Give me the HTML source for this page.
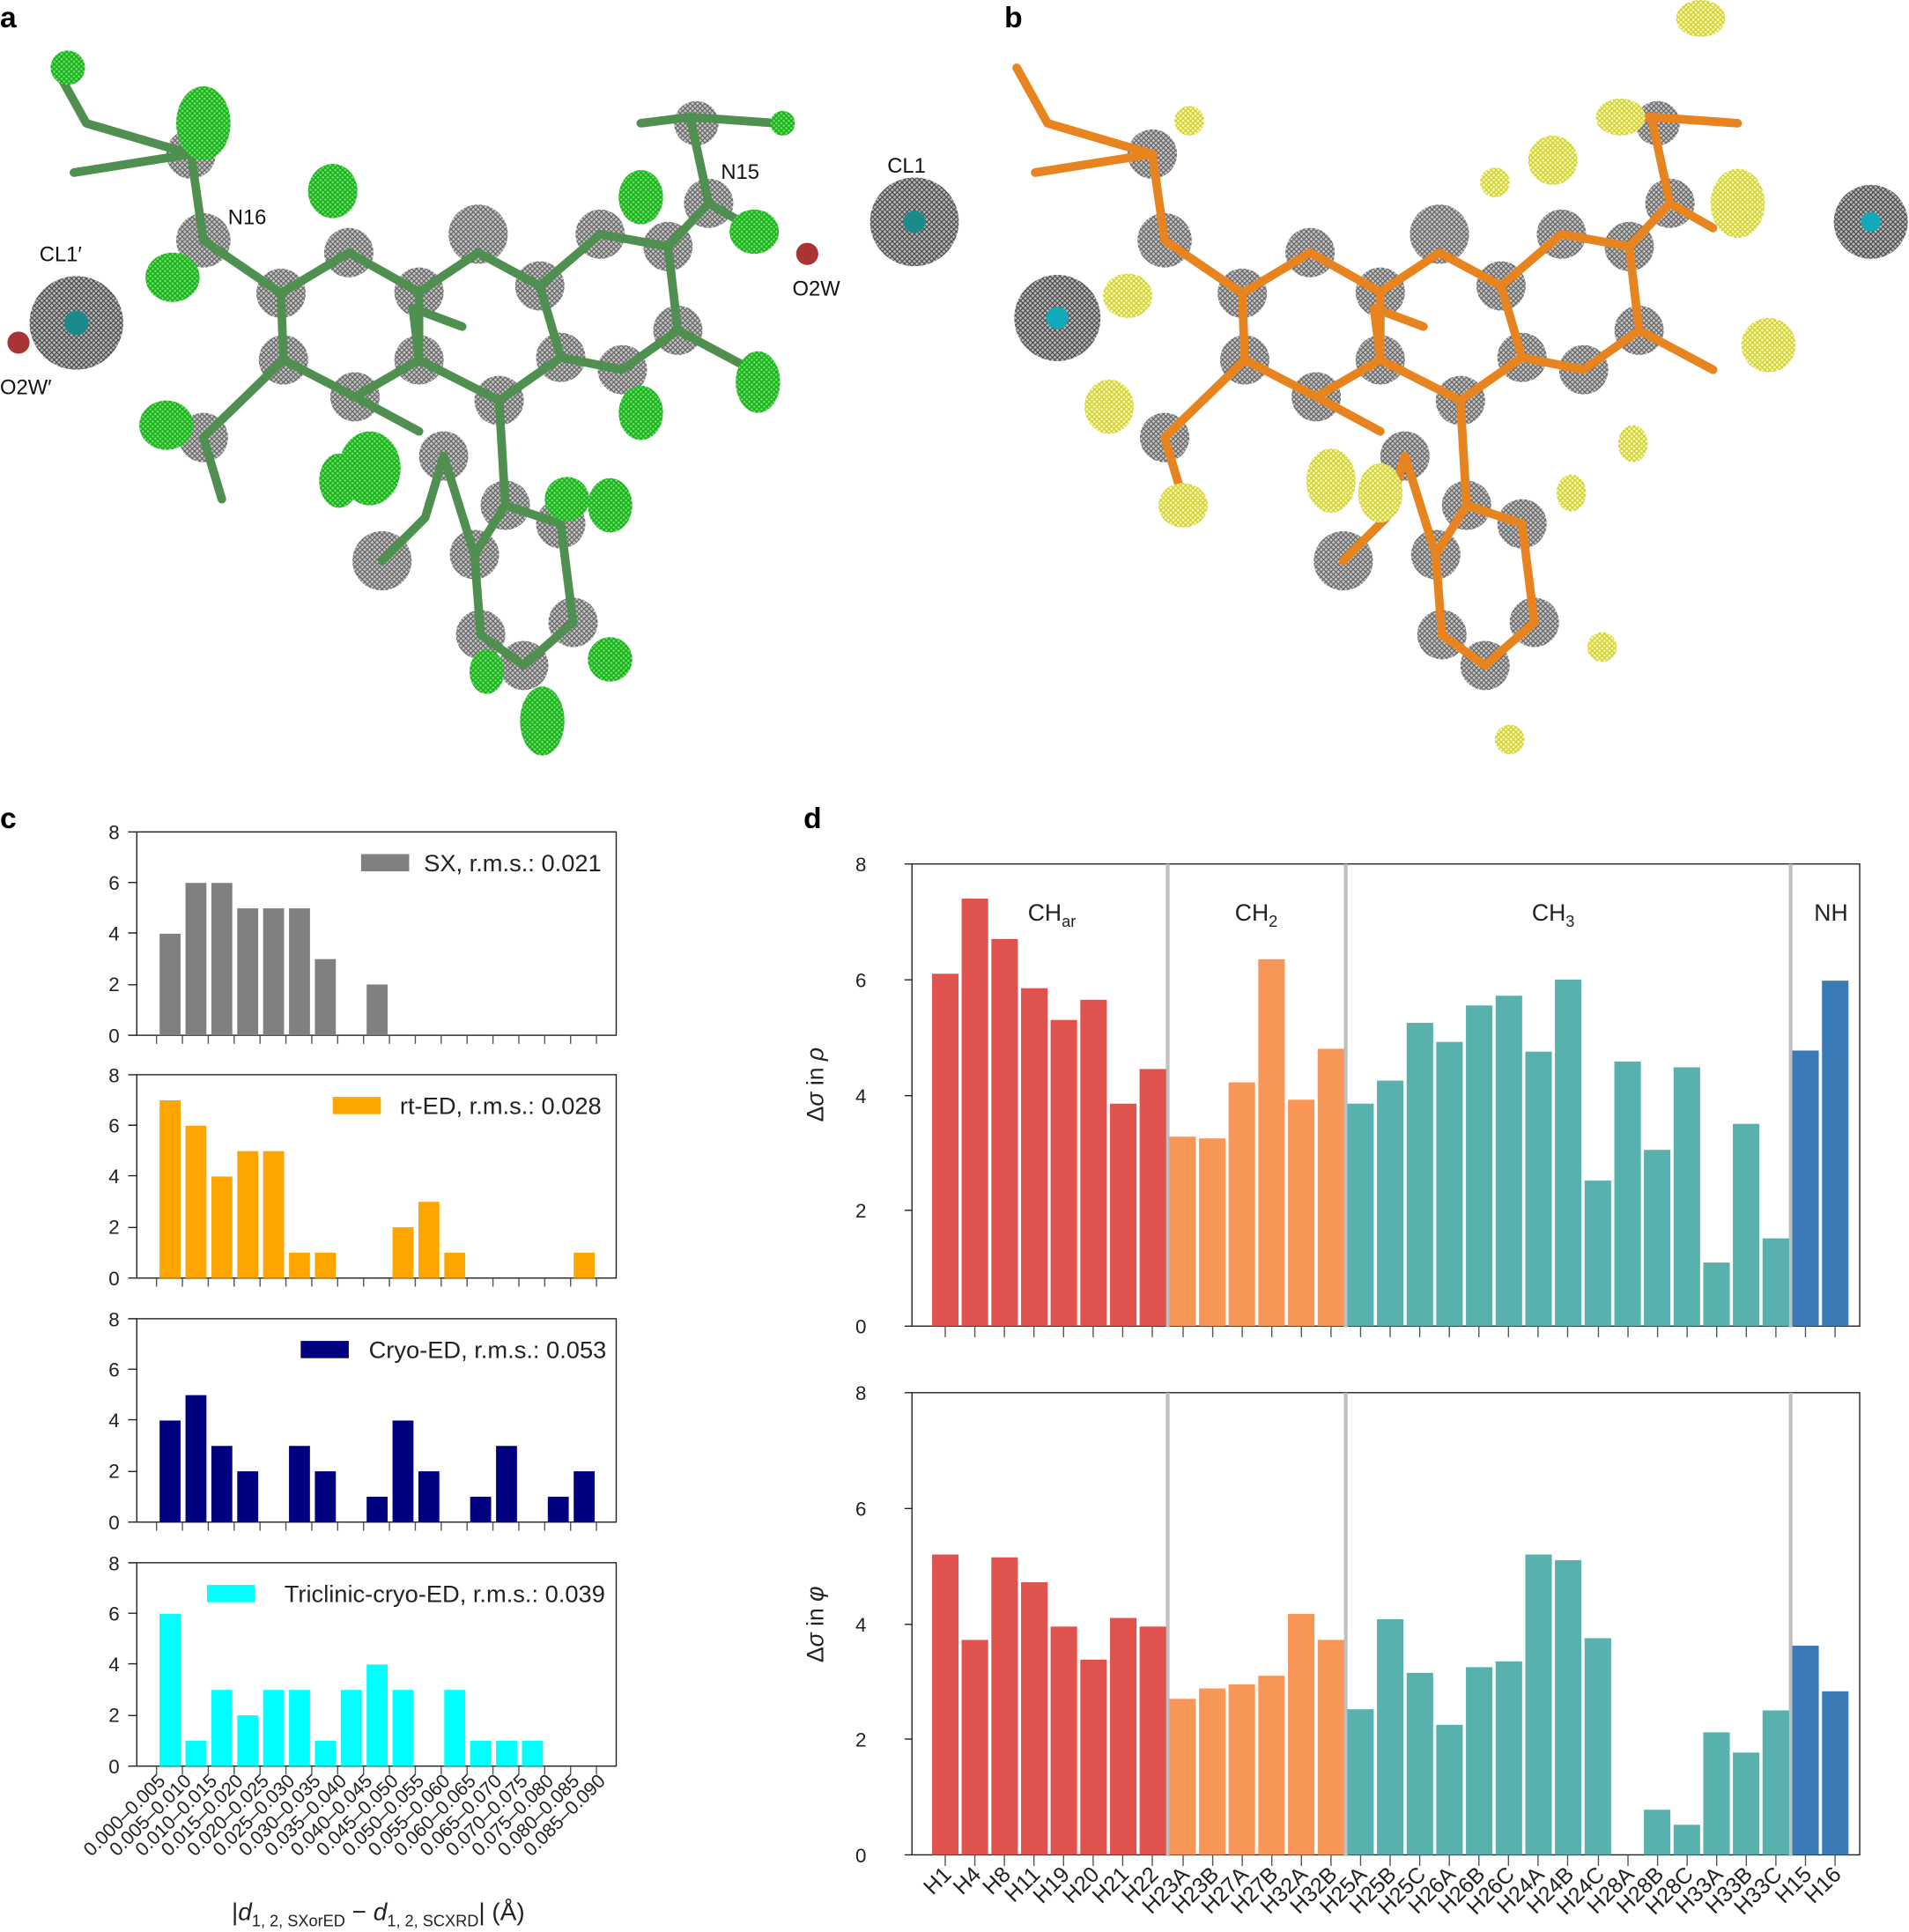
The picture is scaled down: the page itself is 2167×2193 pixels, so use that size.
<!DOCTYPE html>
<html><head><meta charset="utf-8"><style>html,body{margin:0;padding:0;background:#fff}svg{display:block}</style></head><body>
<svg xmlns="http://www.w3.org/2000/svg" width="2167" height="2193" viewBox="0 0 1549 1567.6" font-family="Liberation Sans, sans-serif">
<defs>
<pattern id="mesh" width="4" height="4" patternUnits="userSpaceOnUse"><rect width="4" height="4" fill="#bbb"/><path d="M0 0L4 4M4 0L0 4" stroke="#444" stroke-width="0.8"/></pattern>
<pattern id="gmesh" width="4" height="4" patternUnits="userSpaceOnUse"><rect width="4" height="4" fill="#6d6"/><path d="M0 0L4 4M4 0L0 4" stroke="#1a1" stroke-width="0.9"/></pattern>
<pattern id="ymesh" width="4" height="4" patternUnits="userSpaceOnUse"><rect width="4" height="4" fill="#ffa"/><path d="M0 0L4 4M4 0L0 4" stroke="#cc3" stroke-width="0.9"/></pattern>
<g id="spheres" fill="url(#mesh)" opacity="0.85">
<circle cx="228" cy="238" r="20"/><circle cx="283" cy="205" r="20"/><circle cx="340" cy="237" r="20"/><circle cx="340" cy="292" r="20"/><circle cx="288" cy="322" r="20"/><circle cx="230" cy="292" r="20"/><circle cx="388" cy="190" r="24"/><circle cx="438" cy="232" r="20"/><circle cx="487" cy="190" r="20"/><circle cx="542" cy="200" r="20"/><circle cx="550" cy="268" r="20"/><circle cx="505" cy="300" r="20"/><circle cx="455" cy="290" r="20"/><circle cx="405" cy="325" r="20"/><circle cx="410" cy="410" r="20"/><circle cx="455" cy="425" r="20"/><circle cx="465" cy="505" r="20"/><circle cx="425" cy="540" r="20"/><circle cx="390" cy="515" r="20"/><circle cx="385" cy="450" r="20"/><circle cx="360" cy="370" r="20"/><circle cx="310" cy="455" r="24"/><circle cx="165" cy="195" r="22"/><circle cx="155" cy="125" r="20"/><circle cx="575" cy="165" r="20"/><circle cx="565" cy="100" r="18"/><circle cx="165" cy="355" r="20"/>
</g>
<path id="bonds" d="M165 195L228 238L283 205L340 237L340 292L288 322L230 292L228 238M340 237L388 205L438 232L487 190L542 200L550 268L505 300L455 290L438 232M340 292L405 325L455 290M405 325L410 410L455 425L465 505L425 540L390 515L385 450L410 410M385 450L360 370L345 420L310 455M165 195L155 125L70 100L45 55M155 125L60 140M542 200L575 165L560 95L520 100M560 95L630 100M575 165L610 185M230 292L165 355L180 405M550 268L610 300M288 322L340 350M340 292L335 250L375 265" fill="none" stroke-width="7" stroke-linecap="round" stroke-linejoin="round"/>
</defs>
<text x="0" y="22" font-size="24" font-weight="bold">a</text>
<text x="815" y="22" font-size="24" font-weight="bold">b</text>
<g>
<use href="#spheres"/>
<use href="#bonds" stroke="#4f8f4f"/>
<g fill="url(#gmesh)">
<ellipse cx="55" cy="55" rx="14" ry="14"/><ellipse cx="165" cy="100" rx="22" ry="30"/><ellipse cx="140" cy="225" rx="22" ry="20"/><ellipse cx="270" cy="155" rx="20" ry="22"/><ellipse cx="300" cy="380" rx="25" ry="30"/><ellipse cx="520" cy="160" rx="18" ry="22"/><ellipse cx="612" cy="188" rx="20" ry="18"/><ellipse cx="615" cy="310" rx="18" ry="25"/><ellipse cx="520" cy="335" rx="18" ry="22"/><ellipse cx="135" cy="345" rx="22" ry="20"/><ellipse cx="460" cy="405" rx="18" ry="18"/><ellipse cx="495" cy="535" rx="18" ry="18"/><ellipse cx="440" cy="585" rx="18" ry="28"/><ellipse cx="495" cy="410" rx="18" ry="22"/><ellipse cx="635" cy="100" rx="10" ry="10"/><ellipse cx="395" cy="545" rx="14" ry="18"/><ellipse cx="275" cy="390" rx="16" ry="22"/>
</g>
<circle cx="62" cy="262" r="38" fill="url(#mesh)"/><circle cx="62" cy="262" r="10" fill="#1a8a8a"/>
<circle cx="742" cy="180" r="36" fill="url(#mesh)"/><circle cx="742" cy="180" r="9" fill="#1a8a8a"/>
<circle cx="15" cy="278" r="9" fill="#a33"/><circle cx="655" cy="206" r="9" fill="#a33"/>
</g>
<g transform="translate(780,0)">
<use href="#spheres"/>
<use href="#bonds" stroke="#e8841f"/>
<g fill="url(#ymesh)">
<ellipse cx="185" cy="98" rx="12" ry="12"/><ellipse cx="135" cy="240" rx="20" ry="18"/><ellipse cx="120" cy="330" rx="20" ry="22"/><ellipse cx="180" cy="410" rx="20" ry="18"/><ellipse cx="300" cy="390" rx="20" ry="26"/><ellipse cx="340" cy="400" rx="18" ry="24"/><ellipse cx="480" cy="130" rx="20" ry="20"/><ellipse cx="535" cy="95" rx="20" ry="15"/><ellipse cx="630" cy="165" rx="22" ry="28"/><ellipse cx="655" cy="280" rx="22" ry="22"/><ellipse cx="545" cy="360" rx="12" ry="15"/><ellipse cx="600" cy="15" rx="20" ry="15"/><ellipse cx="495" cy="400" rx="12" ry="15"/><ellipse cx="445" cy="600" rx="12" ry="12"/><ellipse cx="520" cy="525" rx="12" ry="12"/><ellipse cx="433" cy="148" rx="12" ry="12"/>
</g>
</g>
<circle cx="858" cy="258" r="35" fill="url(#mesh)"/><circle cx="858" cy="258" r="9" fill="#1ab"/>
<circle cx="1518" cy="180" r="30" fill="url(#mesh)"/><circle cx="1518" cy="180" r="8" fill="#1ab"/>
<g font-size="17" fill="#111">
<text x="185" y="182">N16</text><text x="32" y="212">CL1′</text><text x="0" y="320">O2W′</text><text x="585" y="145">N15</text><text x="643" y="240">O2W</text><text x="720" y="140">CL1</text>
</g>

<!-- panel c -->
<text x="0" y="672" font-size="24" font-weight="bold">c</text>
<g font-size="16" fill="#222" text-anchor="end">
<text x="97" y="681">8</text><text x="97" y="722">6</text><text x="97" y="763">4</text><text x="97" y="804">2</text><text x="97" y="846">0</text>
<text x="97" y="878">8</text><text x="97" y="919">6</text><text x="97" y="960">4</text><text x="97" y="1001">2</text><text x="97" y="1043">0</text>
<text x="97" y="1076">8</text><text x="97" y="1117">6</text><text x="97" y="1158">4</text><text x="97" y="1199">2</text><text x="97" y="1241">0</text>
<text x="97" y="1274">8</text><text x="97" y="1315">6</text><text x="97" y="1356">4</text><text x="97" y="1397">2</text><text x="97" y="1439">0</text>
</g>
<g fill="none" stroke="#222" stroke-width="1">
<rect x="111" y="675" width="389" height="165"/><rect x="111" y="872" width="389" height="165"/><rect x="111" y="1070" width="389" height="165"/><rect x="111" y="1268" width="389" height="165"/>
<path d="M104 675h7M104 716h7M104 757h7M104 799h7M104 840h7M104 872h7M104 913h7M104 954h7M104 996h7M104 1037h7M104 1070h7M104 1111h7M104 1152h7M104 1194h7M104 1235h7M104 1268h7M104 1309h7M104 1350h7M104 1392h7M104 1433h7"/>
</g>
<g stroke="#555" stroke-width="1">
<path d="M127 840v7M148 840v7M169 840v7M190 840v7M211 840v7M232 840v7M253 840v7M274 840v7M295 840v7M316 840v7M337 840v7M358 840v7M379 840v7M400 840v7M421 840v7M442 840v7M463 840v7M484 840v7"/>
<path d="M127 1037v7M148 1037v7M169 1037v7M190 1037v7M211 1037v7M232 1037v7M253 1037v7M274 1037v7M295 1037v7M316 1037v7M337 1037v7M358 1037v7M379 1037v7M400 1037v7M421 1037v7M442 1037v7M463 1037v7M484 1037v7"/>
<path d="M127 1235v7M148 1235v7M169 1235v7M190 1235v7M211 1235v7M232 1235v7M253 1235v7M274 1235v7M295 1235v7M316 1235v7M337 1235v7M358 1235v7M379 1235v7M400 1235v7M421 1235v7M442 1235v7M463 1235v7M484 1235v7"/>
<path d="M127 1433v7M148 1433v7M169 1433v7M190 1433v7M211 1433v7M232 1433v7M253 1433v7M274 1433v7M295 1433v7M316 1433v7M337 1433v7M358 1433v7M379 1433v7M400 1433v7M421 1433v7M442 1433v7M463 1433v7M484 1433v7"/>
</g>
<g fill="#808080">
<rect x="129.5" y="757.6" width="17" height="82.4"/><rect x="150.5" y="716.4" width="17" height="123.6"/><rect x="171.5" y="716.4" width="17" height="123.6"/><rect x="192.5" y="737" width="17" height="103"/><rect x="213.5" y="737" width="17" height="103"/><rect x="234.5" y="737" width="17" height="103"/><rect x="255.5" y="778.2" width="17" height="61.8"/><rect x="297.5" y="798.8" width="17" height="41.2"/>
<rect x="293" y="693" width="39" height="14"/>
</g>
<g fill="#ffa500">
<rect x="129.5" y="892.8" width="17" height="144.2"/><rect x="150.5" y="913.4" width="17" height="123.6"/><rect x="171.5" y="954.6" width="17" height="82.4"/><rect x="192.5" y="934" width="17" height="103"/><rect x="213.5" y="934" width="17" height="103"/><rect x="234.5" y="1016.4" width="17" height="20.6"/><rect x="255.5" y="1016.4" width="17" height="20.6"/><rect x="318.5" y="995.8" width="17" height="41.2"/><rect x="339.5" y="975.2" width="17" height="61.8"/><rect x="360.5" y="1016.4" width="17" height="20.6"/><rect x="465.5" y="1016.4" width="17" height="20.6"/>
<rect x="270" y="890" width="39" height="14"/>
</g>
<g fill="#000080">
<rect x="129.5" y="1152.6" width="17" height="82.4"/><rect x="150.5" y="1132" width="17" height="103"/><rect x="171.5" y="1173.2" width="17" height="61.8"/><rect x="192.5" y="1193.8" width="17" height="41.2"/><rect x="234.5" y="1173.2" width="17" height="61.8"/><rect x="255.5" y="1193.8" width="17" height="41.2"/><rect x="297.5" y="1214.4" width="17" height="20.6"/><rect x="318.5" y="1152.6" width="17" height="82.4"/><rect x="339.5" y="1193.8" width="17" height="41.2"/><rect x="381.5" y="1214.4" width="17" height="20.6"/><rect x="402.5" y="1173.2" width="17" height="61.8"/><rect x="444.5" y="1214.4" width="17" height="20.6"/><rect x="465.5" y="1193.8" width="17" height="41.2"/>
<rect x="244" y="1088" width="39" height="14"/>
</g>
<g fill="#00ffff">
<rect x="129.5" y="1309.4" width="17" height="123.6"/><rect x="150.5" y="1412.4" width="17" height="20.6"/><rect x="171.5" y="1371.2" width="17" height="61.8"/><rect x="192.5" y="1391.8" width="17" height="41.2"/><rect x="213.5" y="1371.2" width="17" height="61.8"/><rect x="234.5" y="1371.2" width="17" height="61.8"/><rect x="255.5" y="1412.4" width="17" height="20.6"/><rect x="276.5" y="1371.2" width="17" height="61.8"/><rect x="297.5" y="1350.6" width="17" height="82.4"/><rect x="318.5" y="1371.2" width="17" height="61.8"/><rect x="360.5" y="1371.2" width="17" height="61.8"/><rect x="381.5" y="1412.4" width="17" height="20.6"/><rect x="402.5" y="1412.4" width="17" height="20.6"/><rect x="423.5" y="1412.4" width="17" height="20.6"/>
<rect x="168" y="1286" width="39" height="14"/>
</g>
<g font-size="19.5" fill="#222" text-anchor="end">
<text x="488" y="707">SX, r.m.s.: 0.021</text>
<text x="488" y="904">rt-ED, r.m.s.: 0.028</text>
<text x="492" y="1102">Cryo-ED, r.m.s.: 0.053</text>
<text x="491" y="1300">Triclinic-cryo-ED, r.m.s.: 0.039</text>
</g>
<g font-size="15.5" fill="#222" text-anchor="end">
<text transform="translate(135,1446) rotate(-45)">0.000–0.005</text>
<text transform="translate(156,1446) rotate(-45)">0.005–0.010</text>
<text transform="translate(177,1446) rotate(-45)">0.010–0.015</text>
<text transform="translate(198,1446) rotate(-45)">0.015–0.020</text>
<text transform="translate(219,1446) rotate(-45)">0.020–0.025</text>
<text transform="translate(240,1446) rotate(-45)">0.025–0.030</text>
<text transform="translate(261,1446) rotate(-45)">0.030–0.035</text>
<text transform="translate(282,1446) rotate(-45)">0.035–0.040</text>
<text transform="translate(303,1446) rotate(-45)">0.040–0.045</text>
<text transform="translate(324,1446) rotate(-45)">0.045–0.050</text>
<text transform="translate(345,1446) rotate(-45)">0.050–0.055</text>
<text transform="translate(366,1446) rotate(-45)">0.055–0.060</text>
<text transform="translate(387,1446) rotate(-45)">0.060–0.065</text>
<text transform="translate(408,1446) rotate(-45)">0.065–0.070</text>
<text transform="translate(429,1446) rotate(-45)">0.070–0.075</text>
<text transform="translate(450,1446) rotate(-45)">0.075–0.080</text>
<text transform="translate(471,1446) rotate(-45)">0.080–0.085</text>
<text transform="translate(492,1446) rotate(-45)">0.085–0.090</text>
</g>
<text x="188" y="1558" font-size="20" fill="#222">|<tspan font-style="italic">d</tspan><tspan font-size="13" dy="5">1, 2, SXorED</tspan><tspan dy="-5"> − </tspan><tspan font-style="italic">d</tspan><tspan font-size="13" dy="5">1, 2, SCXRD</tspan><tspan dy="-5">| (Å)</tspan></text>

<!-- panel d -->
<text x="652" y="672" font-size="24" font-weight="bold">d</text>
<g font-size="16" fill="#222" text-anchor="end">
<text x="703" y="707">8</text><text x="703" y="801">6</text><text x="703" y="895">4</text><text x="703" y="988">2</text><text x="703" y="1082">0</text>
<text x="703" y="1136">8</text><text x="703" y="1230">6</text><text x="703" y="1324">4</text><text x="703" y="1417">2</text><text x="703" y="1511">0</text>
</g>
<text transform="translate(668,880) rotate(-90)" font-size="19" text-anchor="middle" fill="#222">Δ<tspan font-style="italic">σ</tspan> in <tspan font-style="italic">ρ</tspan></text>
<text transform="translate(668,1318) rotate(-90)" font-size="19" text-anchor="middle" fill="#222">Δ<tspan font-style="italic">σ</tspan> in <tspan font-style="italic">φ</tspan></text>
<g fill="none" stroke="#222" stroke-width="1">
<rect x="740" y="701" width="769" height="375"/><rect x="740" y="1130" width="769" height="375"/>
<path d="M734 701h6M734 795h6M734 889h6M734 982h6M734 1076h6M734 1130h6M734 1224h6M734 1318h6M734 1411h6M734 1505h6"/>
</g>
<g stroke="#c0c0c0" stroke-width="3">
<path d="M947.5 701v376M1092 701v376M1453 701v376M947.5 1130v376M1092 1130v376M1453 1130v376"/>
</g>
<g fill="#e0524e">
<rect x="756.3" y="790.1" width="21.5" height="285.9"/><rect x="780.3" y="729.1" width="21.5" height="346.9"/><rect x="804.4" y="761.9" width="21.5" height="314.1"/><rect x="828.5" y="801.8" width="21.5" height="274.2"/><rect x="852.5" y="827.6" width="21.5" height="248.4"/><rect x="876.6" y="811.2" width="21.5" height="264.8"/><rect x="900.7" y="895.5" width="21.5" height="180.5"/><rect x="924.7" y="867.4" width="21.5" height="208.6"/>
<rect x="756.3" y="1261.3" width="21.5" height="243.7"/><rect x="780.3" y="1330.6" width="21.5" height="174.4"/><rect x="804.4" y="1263.6" width="21.5" height="241.4"/><rect x="828.5" y="1283.8" width="21.5" height="221.2"/><rect x="852.5" y="1319.8" width="21.5" height="185.2"/><rect x="876.6" y="1346.6" width="21.5" height="158.4"/><rect x="900.7" y="1312.8" width="21.5" height="192.2"/><rect x="924.7" y="1319.8" width="21.5" height="185.2"/>
</g>
<g fill="#f79656">
<rect x="948.8" y="922.3" width="21.5" height="153.7"/><rect x="972.9" y="923.7" width="21.5" height="152.3"/><rect x="996.9" y="878.2" width="21.5" height="197.8"/><rect x="1021" y="778.3" width="21.5" height="297.7"/><rect x="1045.1" y="892.3" width="21.5" height="183.7"/><rect x="1069.2" y="851" width="21.5" height="225"/>
<rect x="948.8" y="1378.4" width="21.5" height="126.6"/><rect x="972.9" y="1370" width="21.5" height="135"/><rect x="996.9" y="1366.7" width="21.5" height="138.3"/><rect x="1021" y="1359.7" width="21.5" height="145.3"/><rect x="1045.1" y="1309.5" width="21.5" height="195.5"/><rect x="1069.2" y="1330.6" width="21.5" height="174.4"/>
</g>
<g fill="#58b1ad">
<rect x="1093.2" y="895.5" width="21.5" height="180.5"/><rect x="1117.3" y="876.8" width="21.5" height="199.2"/><rect x="1141.4" y="829.9" width="21.5" height="246.1"/><rect x="1165.4" y="845.4" width="21.5" height="230.6"/><rect x="1189.5" y="815.8" width="21.5" height="260.2"/><rect x="1213.6" y="807.9" width="21.5" height="268.1"/><rect x="1237.7" y="853.3" width="21.5" height="222.7"/><rect x="1261.7" y="794.8" width="21.5" height="281.2"/><rect x="1285.8" y="957.9" width="21.5" height="118.1"/><rect x="1309.9" y="861.3" width="21.5" height="214.7"/><rect x="1333.9" y="933" width="21.5" height="143"/><rect x="1358" y="866" width="21.5" height="210"/><rect x="1382.1" y="1024.4" width="21.5" height="51.6"/><rect x="1406.1" y="911.9" width="21.5" height="164.1"/><rect x="1430.2" y="1004.8" width="21.5" height="71.2"/>
<rect x="1093.2" y="1386.9" width="21.5" height="118.1"/><rect x="1117.3" y="1313.8" width="21.5" height="191.2"/><rect x="1141.4" y="1357.3" width="21.5" height="147.7"/><rect x="1165.4" y="1399.5" width="21.5" height="105.5"/><rect x="1189.5" y="1352.7" width="21.5" height="152.3"/><rect x="1213.6" y="1348" width="21.5" height="157"/><rect x="1237.7" y="1261.3" width="21.5" height="243.7"/><rect x="1261.7" y="1265.9" width="21.5" height="239.1"/><rect x="1285.8" y="1329.2" width="21.5" height="175.8"/><rect x="1333.9" y="1468.4" width="21.5" height="36.6"/><rect x="1358" y="1480.6" width="21.5" height="24.4"/><rect x="1382.1" y="1405.6" width="21.5" height="99.4"/><rect x="1406.1" y="1422" width="21.5" height="83"/><rect x="1430.2" y="1387.8" width="21.5" height="117.2"/>
</g>
<g fill="#3a7ab6">
<rect x="1454.3" y="852.4" width="21.5" height="223.6"/><rect x="1478.4" y="795.7" width="21.5" height="280.3"/>
<rect x="1454.3" y="1335.3" width="21.5" height="169.7"/><rect x="1478.4" y="1372.3" width="21.5" height="132.7"/>
</g>
<g stroke="#555" stroke-width="1">
<path d="M767 1076v9M791 1076v9M815 1076v9M839 1076v9M863 1076v9M887 1076v9M911 1076v9M935 1076v9M960 1076v9M984 1076v9M1008 1076v9M1032 1076v9M1056 1076v9M1080 1076v9M1104 1076v9M1128 1076v9M1152 1076v9M1176 1076v9M1200 1076v9M1224 1076v9M1248 1076v9M1272 1076v9M1297 1076v9M1321 1076v9M1345 1076v9M1369 1076v9M1393 1076v9M1417 1076v9M1441 1076v9M1465 1076v9M1489 1076v9"/>
<path d="M767 1505v9M791 1505v9M815 1505v9M839 1505v9M863 1505v9M887 1505v9M911 1505v9M935 1505v9M960 1505v9M984 1505v9M1008 1505v9M1032 1505v9M1056 1505v9M1080 1505v9M1104 1505v9M1128 1505v9M1152 1505v9M1176 1505v9M1200 1505v9M1224 1505v9M1248 1505v9M1272 1505v9M1297 1505v9M1321 1505v9M1345 1505v9M1369 1505v9M1393 1505v9M1417 1505v9M1441 1505v9M1465 1505v9M1489 1505v9"/>
</g>
<g font-size="19" fill="#222">
<text x="834" y="747">CH<tspan font-size="13" dy="5">ar</tspan></text>
<text x="1002" y="747">CH<tspan font-size="13" dy="5">2</tspan></text>
<text x="1243" y="747">CH<tspan font-size="13" dy="5">3</tspan></text>
<text x="1472" y="747">NH</text>
</g>
<g font-size="18" fill="#222" text-anchor="end">
<text transform="translate(773,1522) rotate(-45)">H1</text>
<text transform="translate(797,1522) rotate(-45)">H4</text>
<text transform="translate(821,1522) rotate(-45)">H8</text>
<text transform="translate(845,1522) rotate(-45)">H11</text>
<text transform="translate(869,1522) rotate(-45)">H19</text>
<text transform="translate(893,1522) rotate(-45)">H20</text>
<text transform="translate(917,1522) rotate(-45)">H21</text>
<text transform="translate(941,1522) rotate(-45)">H22</text>
<text transform="translate(966,1522) rotate(-45)">H23A</text>
<text transform="translate(990,1522) rotate(-45)">H23B</text>
<text transform="translate(1014,1522) rotate(-45)">H27A</text>
<text transform="translate(1038,1522) rotate(-45)">H27B</text>
<text transform="translate(1062,1522) rotate(-45)">H32A</text>
<text transform="translate(1086,1522) rotate(-45)">H32B</text>
<text transform="translate(1110,1522) rotate(-45)">H25A</text>
<text transform="translate(1134,1522) rotate(-45)">H25B</text>
<text transform="translate(1158,1522) rotate(-45)">H25C</text>
<text transform="translate(1182,1522) rotate(-45)">H26A</text>
<text transform="translate(1206,1522) rotate(-45)">H26B</text>
<text transform="translate(1230,1522) rotate(-45)">H26C</text>
<text transform="translate(1254,1522) rotate(-45)">H24A</text>
<text transform="translate(1278,1522) rotate(-45)">H24B</text>
<text transform="translate(1303,1522) rotate(-45)">H24C</text>
<text transform="translate(1327,1522) rotate(-45)">H28A</text>
<text transform="translate(1351,1522) rotate(-45)">H28B</text>
<text transform="translate(1375,1522) rotate(-45)">H28C</text>
<text transform="translate(1399,1522) rotate(-45)">H33A</text>
<text transform="translate(1423,1522) rotate(-45)">H33B</text>
<text transform="translate(1447,1522) rotate(-45)">H33C</text>
<text transform="translate(1471,1522) rotate(-45)">H15</text>
<text transform="translate(1495,1522) rotate(-45)">H16</text>
</g>
</svg>
</body></html>
